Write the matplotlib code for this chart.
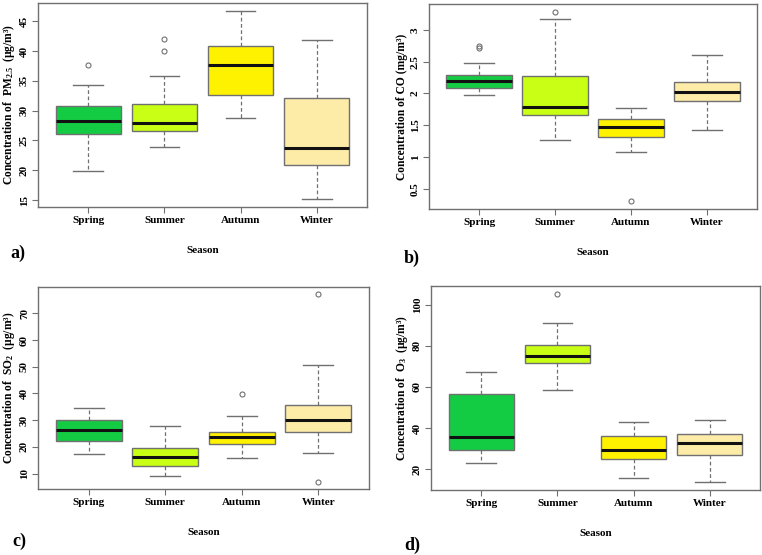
"""四季污染物浓度箱线图（PM2.5 / CO / SO2 / O3），R 风格复刻。"""
import numpy as np
import matplotlib.pyplot as plt

plt.rcParams['font.family'] = ['Liberation Serif', 'DejaVu Serif']
plt.rcParams['font.weight'] = 'bold'
plt.rcParams['mathtext.fontset'] = 'custom'
plt.rcParams['mathtext.rm'] = 'Liberation Serif:bold'
plt.rcParams['mathtext.bf'] = 'Liberation Serif:bold'
plt.rcParams['mathtext.it'] = 'Liberation Serif:bold'

seasons = ['Spring', 'Summer', 'Autumn', 'Winter']
colors = ['#14CC44', '#C8FF14', '#FFF200', '#FDEBA8']

# 每季：(whislo, q1, med, q3, whishi, fliers)
pm25 = [(19.9, 26.1, 28.2, 30.7, 34.3, [37.6]),
        (23.9, 26.6, 27.9, 31.2, 35.8, [40.0, 42.0]),
        (28.8, 32.7, 37.7, 40.8, 46.8, []),
        (15.1, 20.9, 23.7, 32.2, 41.9, [])]
co = [(1.98, 2.09, 2.19, 2.29, 2.48, [2.71, 2.75]),
      (1.26, 1.66, 1.79, 2.28, 3.17, [3.29]),
      (1.08, 1.32, 1.47, 1.60, 1.77, [0.30]),
      (1.42, 1.88, 2.02, 2.18, 2.60, [])]
so2 = [(17.2, 22.2, 26.2, 30.2, 34.5, []),
       (9.1, 13.0, 16.1, 19.5, 27.7, []),
       (16.0, 21.1, 23.7, 25.7, 31.7, [39.9]),
       (17.6, 25.5, 29.9, 35.7, 50.6, [77.1, 7.0])]
o3 = [(23.2, 29.1, 35.4, 56.7, 67.1, []),
      (58.3, 71.5, 74.8, 80.5, 90.9, [105.4]),
      (15.9, 24.9, 29.4, 36.2, 42.9, []),
      (13.5, 27.0, 32.7, 37.0, 44.0, [])]

ylabels = ['Concentration of  PM$_{2.5}$  (µg/m³)',
           'Concentration of CO (mg/m³)',
           'Concentration of  SO$_{2}$  (µg/m³)',
           'Concentration of  O$_{3}$  (µg/m³)']
yticks = [[15, 20, 25, 30, 35, 40, 45],
          [0.5, 1, 1.5, 2, 2.5, 3],
          [10, 20, 30, 40, 50, 60, 70],
          [20, 40, 60, 80, 100]]
letters = ['a)', 'b)', 'c)', 'd)']

# 像素坐标（左, 上, 右, 下）
W, H = 762, 555
boxes_px = [(38, 3, 367, 207), (429, 4, 757, 209),
            (38, 287, 369, 489), (431, 286, 760, 490)]
grey = '#707070'


def to_stats(rows):
    out = []
    for (lo, q1, med, q3, hi, fl), lab in zip(rows, seasons):
        out.append(dict(whislo=lo, q1=q1, med=med, q3=q3, whishi=hi,
                        fliers=fl, label=lab))
    return out


fig = plt.figure(figsize=(W / 100, H / 100), dpi=100)
datasets = [pm25, co, so2, o3]
for k, rows in enumerate(datasets):
    l, t, r, b = boxes_px[k]
    ax = fig.add_axes([l / W, 1 - b / H, (r - l) / W, (b - t) / H])
    bp = ax.bxp(to_stats(rows), positions=[1, 2, 3, 4], widths=0.86,
                capwidths=0.39, patch_artist=True,
                boxprops=dict(edgecolor=grey, linewidth=1.0),
                medianprops=dict(color='#111111', linewidth=2.2),
                whiskerprops=dict(color=grey, linewidth=0.9,
                                  linestyle=(0, (3, 2))),
                capprops=dict(color=grey, linewidth=1.0),
                flierprops=dict(marker='o', markersize=3.6,
                                markerfacecolor='none',
                                markeredgecolor=grey, markeredgewidth=0.8))
    for patch, c in zip(bp['boxes'], colors):
        patch.set_facecolor(c)
    # R 默认：数据范围扩 4%
    vals = [v for row in rows for v in (row[0], row[4], *row[5])]
    lo, hi = min(vals), max(vals)
    pad = 0.04 * (hi - lo)
    ax.set_ylim(lo - pad, hi + pad)
    ax.set_xlim(0.34, 4.66)
    ax.set_yticks(yticks[k])
    ax.set_yticklabels([f'{v:g}' for v in yticks[k]], rotation=90,
                       va='center', fontsize=8, fontweight='bold')
    ax.set_xticks([1, 2, 3, 4])
    ax.set_xticklabels(seasons, fontsize=8, fontweight='bold')
    ax.tick_params(axis='both', direction='out', length=4, width=0.8,
                   color=grey, pad=2.5)
    for s in ax.spines.values():
        s.set_color(grey)
        s.set_linewidth(1.0)
    ax.set_xlabel('Season', fontsize=8, fontweight='bold', labelpad=15)
    ax.set_ylabel(ylabels[k], fontsize=8.3, fontweight='bold', labelpad=2)

# 面板字母
letter_px = [(10, 253), (404, 258), (12, 541), (404, 545)]
for (x, y), s in zip(letter_px, letters):
    fig.text(x / W, 1 - y / H, s, fontsize=13, fontweight='bold',
             va='center', ha='left')

fig.savefig('out.png', dpi=100)
